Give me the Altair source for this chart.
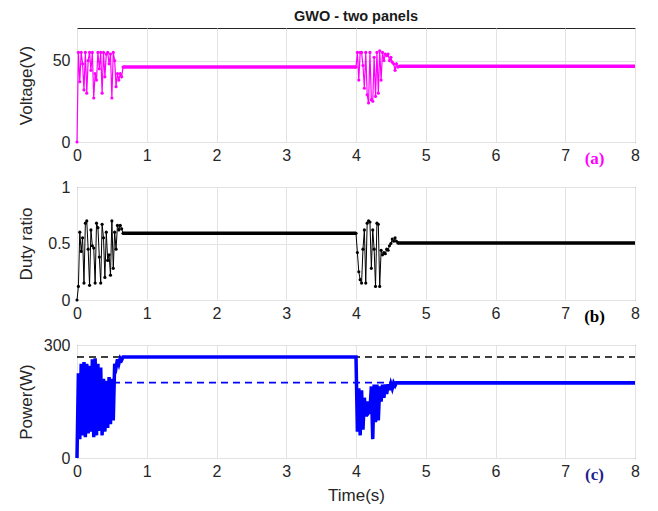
import altair as alt
import pandas as pd

# ---------------- data ----------------
# Voltage transients (V)
volt_t1 = [0.00, 0.02, 0.04, 0.06, 0.08, 0.10, 0.12, 0.14, 0.16, 0.18, 0.20, 0.22,
           0.24, 0.26, 0.28, 0.30, 0.32, 0.34, 0.36, 0.38, 0.40, 0.42, 0.44, 0.46,
           0.48, 0.50, 0.52, 0.54, 0.56, 0.58, 0.60, 0.62, 0.64, 0.66]
volt_v1 = [0, 55, 37, 55, 48, 32, 55, 30, 50, 55, 44, 55,
           27, 42, 38, 55, 45, 55, 30, 55, 40, 54, 55, 48,
           54, 27, 55, 50, 34, 42, 38, 42, 40, 46]
volt_t2 = [4.00, 4.02, 4.04, 4.06, 4.08, 4.10, 4.12, 4.14, 4.16, 4.18, 4.20, 4.22,
           4.24, 4.26, 4.28, 4.30, 4.32, 4.34, 4.36, 4.38, 4.40, 4.42, 4.44, 4.46,
           4.48, 4.50, 4.52, 4.54, 4.56, 4.58, 4.60, 4.62]
volt_v2 = [46, 55, 38, 55, 55, 47, 33, 55, 29, 24, 55, 26,
           25, 52, 28, 55, 30, 56, 38, 55, 50, 54, 53, 54,
           50, 52, 49, 48, 44, 48, 46, 46.5]
volt_steady = [(0.66, 4.00, 46), (4.62, 8.00, 46.5)]

# Duty ratio transients
duty_t1 = volt_t1
duty_v1 = [0.00, 0.12, 0.60, 0.43, 0.55, 0.15, 0.68, 0.70, 0.45, 0.13, 0.62, 0.48,
           0.46, 0.15, 0.68, 0.64, 0.38, 0.15, 0.67, 0.55, 0.20, 0.60, 0.35, 0.40,
           0.22, 0.70, 0.28, 0.60, 0.45, 0.66, 0.62, 0.66, 0.63, 0.59]
duty_t2 = [4.00, 4.02, 4.04, 4.06, 4.08, 4.10, 4.12, 4.14, 4.16, 4.18, 4.20, 4.22,
           4.24, 4.26, 4.28, 4.30, 4.32, 4.34, 4.36, 4.38, 4.40, 4.42, 4.44, 4.46,
           4.48, 4.50, 4.52, 4.54, 4.56, 4.58, 4.60]
duty_v2 = [0.59, 0.42, 0.25, 0.18, 0.15, 0.45, 0.62, 0.15, 0.68, 0.70, 0.69, 0.28,
           0.62, 0.45, 0.12, 0.68, 0.67, 0.12, 0.44, 0.40, 0.42, 0.41, 0.45, 0.44,
           0.48, 0.50, 0.54, 0.52, 0.55, 0.52, 0.505]
duty_steady = [(0.66, 4.00, 0.59), (4.60, 8.00, 0.505)]

# Power (W)
pow_t1 = volt_t1
pow_v1 = [0, 225, 50, 250, 60, 255, 55, 250, 65, 245, 70, 262,
          55, 265, 60, 250, 72, 240, 60, 210, 70, 205, 80, 215,
          90, 210, 100, 250, 240, 262, 250, 265, 260, 268]
pow_t2 = [4.00, 4.02, 4.04, 4.06, 4.08, 4.10, 4.12, 4.14, 4.16, 4.18, 4.20, 4.22,
          4.24, 4.26, 4.28, 4.30, 4.32, 4.34, 4.36, 4.38, 4.40, 4.42, 4.44, 4.46,
          4.48, 4.50, 4.52, 4.54, 4.56, 4.58, 4.60]
pow_v2 = [268, 70, 185, 60, 180, 75, 160, 110, 150, 120, 125, 190,
          50, 195, 95, 195, 100, 190, 150, 195, 160, 195, 170, 196,
          180, 197, 185, 199, 192, 200, 200]
pow_steady = [(4.60, 8.00, 200)]
pow_ref = [268, 200]
pow_ref_color = ["black", "#0000ff"]

x_ticks = [0, 1, 2, 3, 4, 5, 6, 7, 8]

# ---------------- style ----------------
W = 558
H1, H2, H3 = 114, 113, 113
FONT = "Liberation Sans"
MAG = "#ff00ff"
BLUE = "#0000ff"


def xenc(title=None):
    return alt.X("t:Q", scale=alt.Scale(domain=[0, 8], nice=False),
                 axis=alt.Axis(values=x_ticks, title=title, format="d"))


def panel(t1, v1, t2, v2, steady, color, ytitle, ydom, yvals, yfmt, h, lab, labcolor,
          xtitle=None, markers=True, lw=1.2):
    rows = [{"t": a, "v": b} for a, b in zip(t1, v1)] + \
           [{"t": a, "v": b} for a, b in zip(t2, v2)]
    if steady:
        rows.append({"t": steady[-1][1], "v": steady[-1][2]})
    df = pd.DataFrame(rows).sort_values("t")
    yenc = alt.Y("v:Q", scale=alt.Scale(domain=ydom, nice=False),
                 axis=alt.Axis(values=yvals, title=ytitle, format=yfmt))
    layers = [alt.Chart(df).mark_line(color=color, strokeWidth=lw)
              .encode(x=xenc(xtitle), y=yenc)]
    if markers:
        pts = pd.DataFrame([{"t": a, "v": b} for a, b in zip(t1, v1)] +
                           [{"t": a, "v": b} for a, b in zip(t2, v2)])
        layers.append(alt.Chart(pts).mark_circle(color=color, size=10, opacity=1)
                      .encode(x="t:Q", y="v:Q"))
    if steady:
        sd = pd.DataFrame([{"t": a, "t2": b, "v": c} for a, b, c in steady])
        layers.append(alt.Chart(sd).mark_rule(color=color, strokeWidth=3.5)
                      .encode(x="t:Q", x2="t2:Q", y="v:Q"))
    ld = pd.DataFrame({"t": [7.42], "lab": [lab]})
    layers.append(alt.Chart(ld).mark_text(font="Liberation Serif", fontWeight="bold",
                                          fontSize=17, color=labcolor, baseline="middle")
                  .encode(x="t:Q", y=alt.value(h + 17), text="lab:N"))
    return layers


# Panel (a)
la = panel(volt_t1, volt_v1, volt_t2, volt_v2, volt_steady, MAG, "Voltage(V)",
           [0, 70], [0, 50], "d", H1, "(a)", MAG, lw=1.2)
ch_a = alt.layer(*la).properties(width=W, height=H1,
                                 title=alt.TitleParams("GWO - two panels", fontSize=14.5,
                                                       font=FONT, fontWeight="bold",
                                                       color="#1a1a1a", offset=4))

# Panel (b)
lb = panel(duty_t1, duty_v1, duty_t2, duty_v2, duty_steady, "black", "Duty ratio",
           [0, 1], [0, 0.5, 1], ".1~f", H2, "(b)", "black", lw=1.0)
ch_b = alt.layer(*lb).properties(width=W, height=H2)

# Panel (c)
ref_df = pd.DataFrame({"v": pow_ref, "c": pow_ref_color, "t": [0, 0], "t2": [8, 8]})
ref_layer = alt.Chart(ref_df).mark_rule(strokeWidth=1.6, strokeDash=[7, 5]).encode(
    x="t:Q", x2="t2:Q", y="v:Q", color=alt.Color("c:N", scale=None))
lc = panel(pow_t1, pow_v1, pow_t2, pow_v2, pow_steady, BLUE, "Power(W)",
           [0, 300], [0, 100, 200, 300], "d", H3, "(c)", "#1f1f8f",
           xtitle="Time(s)", markers=False, lw=3.5)
ch_c = alt.layer(ref_layer, *lc).properties(width=W, height=H3)

chart = alt.vconcat(ch_a, ch_b, ch_c, spacing=10).configure_view(
    stroke="#262626", strokeWidth=1
).configure_axis(
    grid=True, gridColor="#e3e3e3", gridWidth=1, domain=False,
    tickSize=0, labelFlush=False,
    labelFont=FONT, labelFontSize=16, labelColor="#262626",
    titleFont=FONT, titleFontSize=17, titleFontWeight="normal", titleColor="#262626",
).configure_axisY(labelPadding=7, titlePadding=8, minExtent=34, maxExtent=34
).configure_axisX(labelPadding=5, titlePadding=8
).properties(padding={"left": 8, "top": 0, "right": 4, "bottom": 4})

chart.save("out.html", embed_options={"renderer": "svg", "actions": False})
